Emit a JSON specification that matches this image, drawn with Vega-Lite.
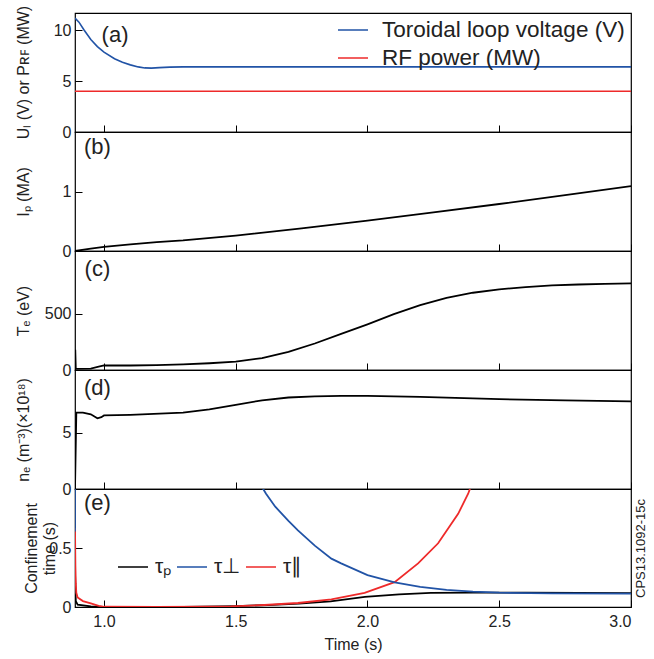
{
  "$schema": "https://vega.github.io/schema/vega-lite/v6.json",
  "padding": {"left": 14, "top": 4, "right": 8, "bottom": 5},
  "background": "white",
  "spacing": 0,
  "bounds": "flush",
  "datasets": {
    "a": [
      {"series": "Toroidal loop voltage (V)", "t": 0.890, "v": 11.2},
      {"series": "Toroidal loop voltage (V)", "t": 0.905, "v": 10.8},
      {"series": "Toroidal loop voltage (V)", "t": 0.925, "v": 10.0},
      {"series": "Toroidal loop voltage (V)", "t": 0.950, "v": 9.1},
      {"series": "Toroidal loop voltage (V)", "t": 0.975, "v": 8.4},
      {"series": "Toroidal loop voltage (V)", "t": 1.000, "v": 7.85},
      {"series": "Toroidal loop voltage (V)", "t": 1.040, "v": 7.2},
      {"series": "Toroidal loop voltage (V)", "t": 1.070, "v": 6.85},
      {"series": "Toroidal loop voltage (V)", "t": 1.100, "v": 6.6},
      {"series": "Toroidal loop voltage (V)", "t": 1.130, "v": 6.4},
      {"series": "Toroidal loop voltage (V)", "t": 1.155, "v": 6.3},
      {"series": "Toroidal loop voltage (V)", "t": 1.180, "v": 6.28},
      {"series": "Toroidal loop voltage (V)", "t": 1.210, "v": 6.33},
      {"series": "Toroidal loop voltage (V)", "t": 1.250, "v": 6.38},
      {"series": "Toroidal loop voltage (V)", "t": 1.300, "v": 6.4},
      {"series": "Toroidal loop voltage (V)", "t": 1.500, "v": 6.4},
      {"series": "Toroidal loop voltage (V)", "t": 2.000, "v": 6.4},
      {"series": "Toroidal loop voltage (V)", "t": 2.500, "v": 6.4},
      {"series": "Toroidal loop voltage (V)", "t": 3.000, "v": 6.4},
      {"series": "RF power (MW)", "t": 0.890, "v": 4.0},
      {"series": "RF power (MW)", "t": 1.500, "v": 4.0},
      {"series": "RF power (MW)", "t": 2.000, "v": 4.0},
      {"series": "RF power (MW)", "t": 3.000, "v": 4.0}
    ],
    "b": [
      {"t": 0.89, "v": 0.0}, {"t": 0.95, "v": 0.04}, {"t": 1.0, "v": 0.07},
      {"t": 1.1, "v": 0.11}, {"t": 1.2, "v": 0.15}, {"t": 1.3, "v": 0.18},
      {"t": 1.5, "v": 0.26}, {"t": 1.75, "v": 0.38}, {"t": 2.0, "v": 0.51},
      {"t": 2.25, "v": 0.65}, {"t": 2.5, "v": 0.79}, {"t": 2.75, "v": 0.94},
      {"t": 3.0, "v": 1.09}
    ],
    "c": [
      {"t": 0.890, "v": 0}, {"t": 0.891, "v": 180}, {"t": 0.893, "v": 10},
      {"t": 0.95, "v": 12}, {"t": 0.98, "v": 30}, {"t": 1.0, "v": 40},
      {"t": 1.1, "v": 40}, {"t": 1.2, "v": 43}, {"t": 1.3, "v": 50},
      {"t": 1.4, "v": 60}, {"t": 1.5, "v": 75}, {"t": 1.6, "v": 105},
      {"t": 1.7, "v": 160}, {"t": 1.8, "v": 235}, {"t": 1.9, "v": 320},
      {"t": 2.0, "v": 405}, {"t": 2.1, "v": 495}, {"t": 2.2, "v": 575},
      {"t": 2.3, "v": 640}, {"t": 2.4, "v": 685}, {"t": 2.5, "v": 715},
      {"t": 2.6, "v": 735}, {"t": 2.7, "v": 750}, {"t": 2.8, "v": 758},
      {"t": 2.9, "v": 764}, {"t": 3.0, "v": 768}
    ],
    "d": [
      {"t": 0.890, "v": 0}, {"t": 0.895, "v": 6.8}, {"t": 0.92, "v": 6.8},
      {"t": 0.95, "v": 6.65}, {"t": 0.975, "v": 6.3}, {"t": 0.99, "v": 6.4},
      {"t": 1.0, "v": 6.55}, {"t": 1.1, "v": 6.6}, {"t": 1.3, "v": 6.8},
      {"t": 1.4, "v": 7.1}, {"t": 1.5, "v": 7.5}, {"t": 1.6, "v": 7.9},
      {"t": 1.7, "v": 8.15}, {"t": 1.8, "v": 8.25}, {"t": 1.9, "v": 8.3},
      {"t": 2.0, "v": 8.3}, {"t": 2.2, "v": 8.2}, {"t": 2.5, "v": 8.0},
      {"t": 2.75, "v": 7.9}, {"t": 3.0, "v": 7.8}
    ],
    "e": [
      {"series": "τₚ", "t": 0.890, "v": 0.3},
      {"series": "τₚ", "t": 0.893, "v": 0.05},
      {"series": "τₚ", "t": 0.900, "v": 0.02},
      {"series": "τₚ", "t": 0.950, "v": 0.005},
      {"series": "τₚ", "t": 1.000, "v": 0.0},
      {"series": "τₚ", "t": 1.300, "v": 0.0},
      {"series": "τₚ", "t": 1.500, "v": 0.008},
      {"series": "τₚ", "t": 1.620, "v": 0.016},
      {"series": "τₚ", "t": 1.740, "v": 0.028},
      {"series": "τₚ", "t": 1.860, "v": 0.048},
      {"series": "τₚ", "t": 1.990, "v": 0.085},
      {"series": "τₚ", "t": 2.120, "v": 0.107},
      {"series": "τₚ", "t": 2.240, "v": 0.119},
      {"series": "τₚ", "t": 2.400, "v": 0.122},
      {"series": "τₚ", "t": 2.600, "v": 0.121},
      {"series": "τₚ", "t": 3.000, "v": 0.118},
      {"series": "τ∥", "t": 0.890, "v": 0.67},
      {"series": "τ∥", "t": 0.8915, "v": 0.35},
      {"series": "τ∥", "t": 0.893, "v": 0.2},
      {"series": "τ∥", "t": 0.895, "v": 0.12},
      {"series": "τ∥", "t": 0.900, "v": 0.08},
      {"series": "τ∥", "t": 0.920, "v": 0.05},
      {"series": "τ∥", "t": 0.950, "v": 0.03},
      {"series": "τ∥", "t": 0.980, "v": 0.01},
      {"series": "τ∥", "t": 1.000, "v": 0.002},
      {"series": "τ∥", "t": 1.200, "v": 0.001},
      {"series": "τ∥", "t": 1.400, "v": 0.003},
      {"series": "τ∥", "t": 1.482, "v": 0.006},
      {"series": "τ∥", "t": 1.609, "v": 0.017},
      {"series": "τ∥", "t": 1.736, "v": 0.034},
      {"series": "τ∥", "t": 1.863, "v": 0.065},
      {"series": "τ∥", "t": 1.989, "v": 0.12},
      {"series": "τ∥", "t": 2.103, "v": 0.21},
      {"series": "τ∥", "t": 2.192, "v": 0.37},
      {"series": "τ∥", "t": 2.268, "v": 0.54},
      {"series": "τ∥", "t": 2.344, "v": 0.79},
      {"series": "τ∥", "t": 2.382, "v": 0.96},
      {"series": "τ∥", "t": 2.392, "v": 1.02},
      {"series": "τ⊥", "t": 0.890, "v": 0.64},
      {"series": "τ⊥", "t": 0.891, "v": 15.0},
      {"series": "τ⊥", "t": 1.000, "v": 8.0},
      {"series": "τ⊥", "t": 1.200, "v": 4.0},
      {"series": "τ⊥", "t": 1.400, "v": 2.0},
      {"series": "τ⊥", "t": 1.500, "v": 1.45},
      {"series": "τ⊥", "t": 1.550, "v": 1.2},
      {"series": "τ⊥", "t": 1.615, "v": 0.96},
      {"series": "τ⊥", "t": 1.650, "v": 0.85},
      {"series": "τ⊥", "t": 1.700, "v": 0.73},
      {"series": "τ⊥", "t": 1.736, "v": 0.65},
      {"series": "τ⊥", "t": 1.800, "v": 0.52},
      {"series": "τ⊥", "t": 1.863, "v": 0.41},
      {"series": "τ⊥", "t": 1.900, "v": 0.37},
      {"series": "τ⊥", "t": 2.000, "v": 0.27},
      {"series": "τ⊥", "t": 2.103, "v": 0.209},
      {"series": "τ⊥", "t": 2.200, "v": 0.17},
      {"series": "τ⊥", "t": 2.300, "v": 0.145},
      {"series": "τ⊥", "t": 2.400, "v": 0.13},
      {"series": "τ⊥", "t": 2.500, "v": 0.121},
      {"series": "τ⊥", "t": 2.700, "v": 0.116},
      {"series": "τ⊥", "t": 3.000, "v": 0.113}
    ]
  },
  "vconcat": [
    {
      "width": 556, "height": 119,
      "layer": [
        {
          "data": {"name": "a"},
          "mark": {"type": "line", "clip": true, "strokeWidth": 1.6},
          "encoding": {
            "x": {"field": "t", "type": "quantitative", "scale": {"domain": [0.89, 3.0], "nice": false, "zero": false},
                  "axis": {"values": [1, 1.5, 2, 2.5, 3], "labels": false, "title": null}},
            "y": {"field": "v", "type": "quantitative", "scale": {"domain": [0, 11.7], "nice": false},
                  "axis": {"values": [0, 5, 10], "title": "Uₗ (V) or Pʀꜰ (MW)", "titleX": -52, "titleY": 59}},
            "color": {"field": "series", "type": "nominal",
                      "scale": {"domain": ["Toroidal loop voltage (V)", "RF power (MW)"], "range": ["#2153a6", "#ee2a2a"]},
                      "legend": {"title": null, "orient": "none", "legendX": 262, "legendY": 1, "padding": 0,
                                 "symbolType": "stroke", "symbolSize": 900, "symbolStrokeWidth": 1.5,
                                 "labelFontSize": 22.5, "labelOffset": 13, "rowPadding": -1, "labelLimit": 400,
                                 "labelFont": "Liberation Sans", "labelColor": "#222"}}
          }
        },
        {
          "data": {"values": [{"label": "(a)"}]},
          "mark": {"type": "text", "fontSize": 22, "font": "Liberation Sans", "align": "center", "baseline": "middle", "color": "#222"},
          "encoding": {"x": {"datum": 1.042}, "y": {"datum": 9.54}, "text": {"field": "label"}}
        }
      ]
    },
    {
      "width": 556, "height": 119,
      "layer": [
        {
          "data": {"name": "b"},
          "mark": {"type": "line", "clip": true, "strokeWidth": 1.8, "color": "black"},
          "encoding": {
            "x": {"field": "t", "type": "quantitative", "scale": {"domain": [0.89, 3.0], "nice": false, "zero": false},
                  "axis": {"values": [1, 1.5, 2, 2.5, 3], "labels": false, "title": null}},
            "y": {"field": "v", "type": "quantitative", "scale": {"domain": [0, 2], "nice": false},
                  "axis": {"values": [0, 1], "format": "~r", "title": "Iₚ (MA)", "titleX": -52, "titleY": 59.5}}
          }
        },
        {
          "data": {"values": [{"label": "(b)"}]},
          "mark": {"type": "text", "fontSize": 22, "font": "Liberation Sans", "align": "center", "baseline": "middle", "color": "#222"},
          "encoding": {"x": {"datum": 0.975}, "y": {"datum": 1.756}, "text": {"field": "label"}}
        }
      ]
    },
    {
      "width": 556, "height": 119,
      "layer": [
        {
          "data": {"name": "c"},
          "mark": {"type": "line", "clip": true, "strokeWidth": 1.8, "color": "black"},
          "encoding": {
            "x": {"field": "t", "type": "quantitative", "scale": {"domain": [0.89, 3.0], "nice": false, "zero": false},
                  "axis": {"values": [1, 1.5, 2, 2.5, 3], "labels": false, "title": null}},
            "y": {"field": "v", "type": "quantitative", "scale": {"domain": [0, 1055], "nice": false},
                  "axis": {"values": [0, 500], "title": "Tₑ (eV)", "titleX": -52, "titleY": 59.5}}
          }
        },
        {
          "data": {"values": [{"label": "(c)"}]},
          "mark": {"type": "text", "fontSize": 22, "font": "Liberation Sans", "align": "center", "baseline": "middle", "color": "#222"},
          "encoding": {"x": {"datum": 0.975}, "y": {"datum": 895}, "text": {"field": "label"}}
        }
      ]
    },
    {
      "width": 556, "height": 119,
      "layer": [
        {
          "data": {"name": "d"},
          "mark": {"type": "line", "clip": true, "strokeWidth": 1.8, "color": "black"},
          "encoding": {
            "x": {"field": "t", "type": "quantitative", "scale": {"domain": [0.89, 3.0], "nice": false, "zero": false},
                  "axis": {"values": [1, 1.5, 2, 2.5, 3], "labels": false, "title": null}},
            "y": {"field": "v", "type": "quantitative", "scale": {"domain": [0, 10.6], "nice": false},
                  "axis": {"values": [0, 5], "title": "nₑ (m⁻³)(×10¹⁸)", "titleX": -52, "titleY": 59.5}}
          }
        },
        {
          "data": {"values": [{"label": "(d)"}]},
          "mark": {"type": "text", "fontSize": 22, "font": "Liberation Sans", "align": "center", "baseline": "middle", "color": "#222"},
          "encoding": {"x": {"datum": 0.975}, "y": {"datum": 9.0}, "text": {"field": "label"}}
        }
      ]
    },
    {
      "width": 556, "height": 118,
      "resolve": {"axis": {"y": "independent"}},
      "layer": [
        {
          "data": {"name": "e"},
          "mark": {"type": "line", "clip": true, "strokeWidth": 1.8},
          "encoding": {
            "x": {"field": "t", "type": "quantitative", "scale": {"domain": [0.89, 3.0], "nice": false, "zero": false},
                  "axis": {"values": [1, 1.5, 2, 2.5, 3], "format": ".1f", "title": "Time (s)", "titleBaseline": "top",
                           "titlePadding": 7, "labelPadding": 13}},
            "y": {"field": "v", "type": "quantitative", "scale": {"domain": [0, 1], "nice": false},
                  "axis": {"values": [0, 0.5], "format": "~r", "title": ["Confinement", "time (s)"], "titleLineHeight": 18, "titleX": -44, "titleY": 59}},
            "color": {"field": "series", "type": "nominal",
                      "scale": {"domain": ["τₚ", "τ⊥", "τ∥"], "range": ["black", "#2153a6", "#ee2a2a"]},
                      "legend": {"title": null, "orient": "none", "legendX": 42, "legendY": 62, "direction": "horizontal",
                                 "padding": 0, "symbolType": "stroke", "symbolSize": 900, "symbolStrokeWidth": 1.5,
                                 "labelFontSize": 21, "labelOffset": 6, "columnPadding": 2,
                                 "labelFont": "Liberation Sans", "labelColor": "#222"}}
          }
        },
        {
          "data": {"values": [{"label": "(e)"}]},
          "mark": {"type": "text", "fontSize": 22, "font": "Liberation Sans", "align": "center", "baseline": "middle", "color": "#222"},
          "encoding": {"x": {"datum": 0.975},
                       "y": {"datum": 0.88, "axis": {"orient": "right", "labels": false, "ticks": false, "title": "CPS13.1092-15c",
                                                      "titleAngle": 270, "titleFontSize": 13, "titlePadding": 9}},
                       "text": {"field": "label"}}
        }
      ]
    }
  ],
  "resolve": {"scale": {"x": "independent", "y": "independent", "color": "independent"}},
  "config": {
    "view": {"stroke": "black", "strokeWidth": 1.2},
    "axis": {"labelFont": "Liberation Sans", "titleFont": "Liberation Sans", "labelFontSize": 16, "titleFontSize": 16,
             "titleFontWeight": "normal", "labelColor": "#222", "titleColor": "#222", "tickColor": "black",
             "titleBaseline": "middle",
             "domain": false, "grid": false, "tickSize": -7, "tickWidth": 1, "labelPadding": 11}
  }
}
